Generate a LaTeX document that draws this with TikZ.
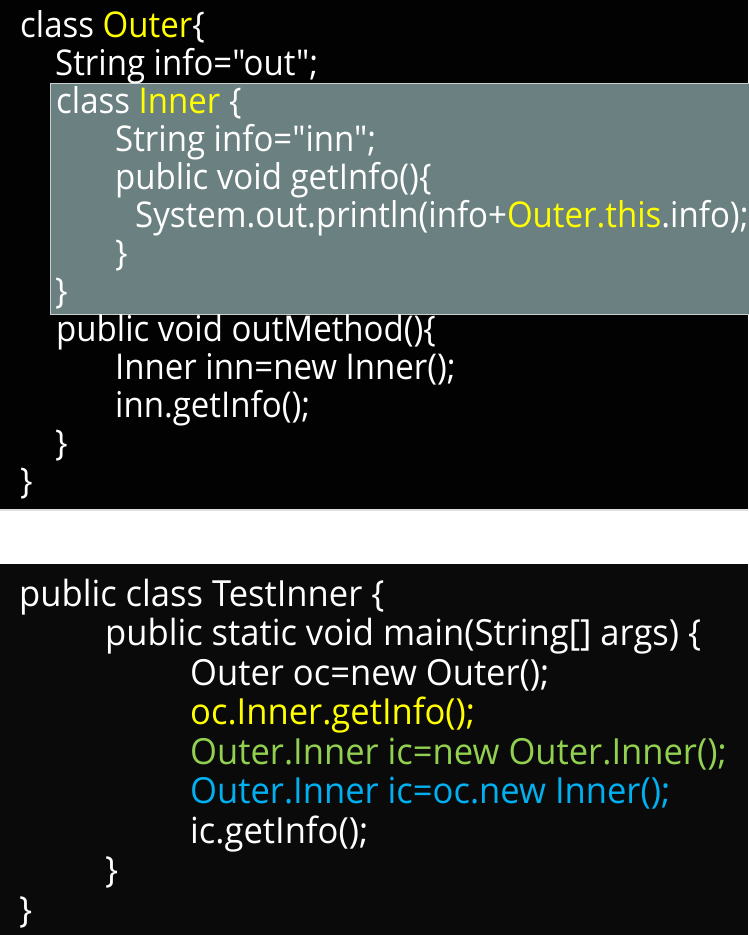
\documentclass[tikz,border=0pt]{standalone}
\usepackage{fontspec}
\setmainfont{Open Sans}[FakeStretch=0.93, Ligatures=TeXOff]
\newfontfamily\botfont{Open Sans}[FakeStretch=0.96, Ligatures=TeXOff]
\definecolor{kwyellow}{HTML}{FFFF00}
\definecolor{kwgreen}{HTML}{92D050}
\definecolor{kwblue}{HTML}{00B0F0}
\definecolor{boxgray}{HTML}{6B8080}
\definecolor{boxline}{HTML}{C8D0D0}
\definecolor{panelA}{HTML}{020202}
\definecolor{panelB}{HTML}{0A0A0A}
\tikzset{
  code/.style={anchor=base west, inner sep=0pt, text=white, font=\fontsize{35.5}{38}\selectfont},
  codeb/.style={anchor=base west, inner sep=0pt, text=white, font=\botfont\fontsize{36}{39}\selectfont},
}
\begin{document}
\begin{tikzpicture}[x=1pt,y=-1pt]
\useasboundingbox (0,0) rectangle (748,935);
% panels
\fill[panelA] (0,0) rectangle (748,509);
\fill[gray!25] (0,509) rectangle (748,511);
\fill[white] (0,511) rectangle (748,564);
\fill[panelB] (0,564) rectangle (748,935);
% inner class highlight
\draw[boxline, fill=boxgray, line width=0.8pt] (50,83.5) rectangle (760,314);
% top code
\node[code] (l1) at (20,37) {class \textcolor{kwyellow}{Outer}\{};
\node[code] (l2) at (55,75) {String info="out";};
\node[code] (l3) at (56,113) {class \textcolor{kwyellow}{Inner} \{};
\node[code] (l4) at (115,151) {String info="inn";};
\node[code] (l5) at (115,189) {public void getInfo()\{};
\node[code] (l6) at (135,227) {System.out.println(info+\textcolor{kwyellow}{Outer.this}.info);};
\node[code] (l7) at (115,265) {\}};
\node[code] (l8) at (55,303) {\}};
\node[code] (l9) at (56,341) {public void outMethod()\{};
\node[code] (l10) at (115,379) {Inner inn=new Inner();};
\node[code] (l11) at (115,417) {inn.getInfo();};
\node[code] (l12) at (55,455) {\}};
\node[code] (l13) at (20,493) {\}};
% bottom code
\node[codeb] (m1) at (19,606) {public class TestInner \{};
\node[codeb] (m2) at (105,645.5) {public static void main(String[] args) \{};
\node[codeb] (m3) at (190,685) {Outer oc=new Outer();};
\node[codeb, text=kwyellow] (m4) at (190,724.5) {oc.Inner.getInfo();};
\node[codeb, text=kwgreen] (m5) at (190,764) {Outer.Inner ic=new Outer.Inner();};
\node[codeb, text=kwblue] (m6) at (190,803.5) {Outer.Inner ic=oc.new Inner();};
\node[codeb] (m7) at (190,843) {ic.getInfo();};
\node[codeb] (m8) at (105,882.5) {\}};
\node[codeb] (m9) at (19,922) {\}};
\end{tikzpicture}
\end{document}
